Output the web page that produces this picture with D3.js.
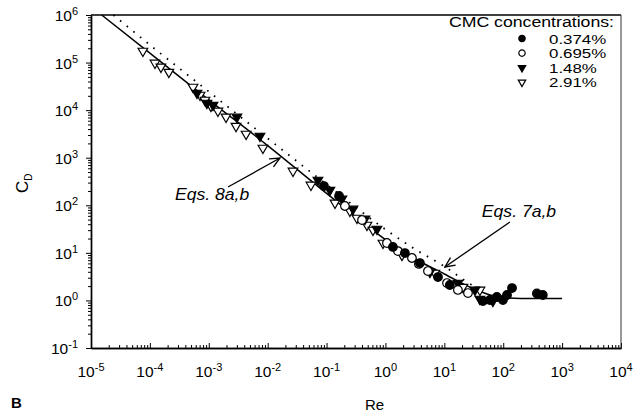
<!DOCTYPE html>
<html>
<head>
<meta charset="utf-8">
<script src="https://cdn.jsdelivr.net/npm/d3@7"></script>
<style>
  html, body { margin: 0; padding: 0; background: #fff; }
  svg text { font-family: "Liberation Sans", Arial, Helvetica, sans-serif; fill: #000; }
</style>
</head>
<body>
<svg id="chart" width="642" height="415"></svg>
<script>
// ---- data -------------------------------------------------------------
// Correlation curves (drag coefficient vs Reynolds number)
const eq8Re = [1.52e-5, 1e-4, 1e-3, 1e-2, 0.1, 1, 3, 10, 30, 60, 100, 200, 1000];
const eq8Cd = [1e6, 1.58e5, 1.65e4, 1.8e3, 178, 19, 7.8, 3.6, 1.8, 1.3, 1.15, 1.1, 1.1];
const eq7Re = [2.4e-5, 1e-4, 1e-3, 1e-2, 0.1, 1, 3, 10, 30, 50];
const eq7Cd = [1e6, 2.35e5, 2.45e4, 2.55e3, 275, 31, 12.5, 5.2, 2.1, 1.6];

// Measurements for each CMC concentration
const cmc0374Re = [0.0903, 0.163, 1.34, 2.14, 3.85, 7.8, 12.4, 45.2, 59.4, 78, 98.9, 116, 141, 373, 470];
const cmc0374Cd = [254, 157, 13.3, 9.9, 6.1, 3.1, 2.11, 0.97, 1.02, 1.18, 1.02, 1.30, 1.82, 1.40, 1.30];
const cmc0695Re = [0.205, 0.40, 1.06, 1.63, 2.82, 3.7, 5.27, 11.1, 17.0, 25.2];
const cmc0695Cd = [96.6, 49, 16.1, 10.9, 7.8, 5.84, 4.15, 2.32, 1.66, 1.43];
const cmc148Re = [6.3e-4, 9.3e-4, 1.18e-3, 3.0e-3, 7.4e-3, 0.0714, 0.114, 0.182, 0.281, 0.449, 0.718, 5.7, 17.0, 33.1, 40.2, 66.8];
const cmc148Cd = [2.29e4, 1.41e4, 1.28e4, 7.2e3, 2.86e3, 340, 209, 136, 83.6, 51.5, 31.7, 3.95, 2.32, 1.66, 1.07, 0.97];
const cmc291Re = [7.6e-5, 1.22e-4, 1.54e-4, 2.1e-4, 5.4e-4, 7.1e-4, 8.6e-4, 1.09e-3, 1.43e-3, 1.96e-3, 2.9e-3, 4.3e-3, 8.3e-3, 0.0269, 0.0543, 0.139, 0.249, 0.328, 0.485, 0.614, 0.908, 1.91, 6.9, 20.7, 40.2];
const cmc291Cd = [1.75e5, 9.8e4, 8.1e4, 6.3e4, 3.06e4, 2.08e4, 1.63e4, 1.22e4, 9.6e3, 7.2e3, 4.6e3, 3.15e3, 1.6e3, 526, 267, 112, 76, 54, 38.5, 30.2, 16.1, 9.0, 3.77, 1.91, 1.66];

const seriesLabels = ["0.374%", "0.695%", "1.48%", "2.91%"];
const legendTitle = "CMC concentrations:";
const reExponents = [-5, -4, -3, -2, -1, 0, 1, 2, 3, 4];
const cdExponents = [-1, 0, 1, 2, 3, 4, 5, 6];

// ---- layout -------------------------------------------------------------
const svg = d3.select("#chart");
const X0 = 91, X1 = 621, Y0 = 15, Y1 = 348;

const x = d3.scaleLog().domain([1e-5, 1e4]).range([X0, X1]);
const y = d3.scaleLog().domain([1e-1, 1e6]).range([Y1, Y0]);

const series = [
  { label: seriesLabels[0], re: cmc0374Re, cd: cmc0374Cd, shape: "circle", filled: true },
  { label: seriesLabels[1], re: cmc0695Re, cd: cmc0695Cd, shape: "circle", filled: false },
  { label: seriesLabels[2], re: cmc148Re, cd: cmc148Cd, shape: "triangle", filled: true },
  { label: seriesLabels[3], re: cmc291Re, cd: cmc291Cd, shape: "triangle", filled: false }
];

// minor / major tick values
const decadeTicks = (exps) => exps.map(e => Math.pow(10, e));
const minorTicks = (exps) => {
  const out = [];
  for (let i = 0; i < exps.length - 1; i++)
    for (let k = 2; k <= 9; k++) out.push(k * Math.pow(10, exps[i]));
  return out;
};

// ---- axes -------------------------------------------------------------
const gx = svg.append("g").attr("transform", `translate(0,${Y1})`);
gx.call(d3.axisBottom(x).tickValues(minorTicks(reExponents)).tickSizeInner(-3).tickSizeOuter(0).tickFormat(""));
gx.append("g").call(d3.axisBottom(x).tickValues(decadeTicks(reExponents)).tickSizeInner(-5).tickSizeOuter(0).tickFormat(""));
gx.selectAll("path.domain").attr("stroke", "#000").attr("stroke-width", 1.6);
gx.selectAll("line").attr("stroke", "#000").attr("stroke-width", 1);

const gy = svg.append("g").attr("transform", `translate(${X0},0)`);
gy.call(d3.axisLeft(y).tickValues(minorTicks(cdExponents)).tickSizeInner(3).tickSizeOuter(0).tickFormat(""));
gy.append("g").call(d3.axisLeft(y).tickValues(decadeTicks(cdExponents)).tickSizeInner(5).tickSizeOuter(0).tickFormat(""));
gy.selectAll("path.domain").attr("stroke", "#000").attr("stroke-width", 1.4);
gy.selectAll("line").attr("stroke", "#000").attr("stroke-width", 1);

// frame: top and right edges
svg.append("line").attr("x1", X0).attr("x2", X1).attr("y1", Y0).attr("y2", Y0)
  .attr("stroke", "#000").attr("stroke-width", 1.6);
svg.append("line").attr("x1", X1).attr("x2", X1).attr("y1", Y0).attr("y2", Y1)
  .attr("stroke", "#333").attr("stroke-width", 1);

// power-of-ten tick labels
function powerLabel(g, px, py, exp, anchor) {
  const t = g.append("text").attr("x", px).attr("y", py)
    .attr("text-anchor", anchor).attr("font-size", 15.5);
  t.append("tspan").text("10");
  t.append("tspan").attr("font-size", 11).attr("dy", -6).text(String(exp));
  return t;
}
reExponents.forEach(e => powerLabel(svg, x(Math.pow(10, e)), 377, e, "middle"));
cdExponents.forEach(e => powerLabel(svg, 78, y(Math.pow(10, e)) + 6, e, "end"));

// axis titles
svg.append("text").attr("x", 365).attr("y", 410).attr("font-size", 15).text("Re");
const cdTitle = svg.append("text")
  .attr("transform", "translate(28,193) rotate(-90)").attr("font-size", 17);
cdTitle.append("tspan").text("C");
cdTitle.append("tspan").attr("font-size", 10).attr("dy", 4).text("D");
svg.append("text").attr("x", 11).attr("y", 408).attr("font-size", 15)
  .attr("font-weight", "bold").text("B");

// ---- curves -------------------------------------------------------------
const lineGen = d3.line().x(d => x(d[0])).y(d => y(d[1])).curve(d3.curveMonotoneX);
svg.append("path").datum(d3.zip(eq7Re, eq7Cd)).attr("d", lineGen)
  .attr("fill", "none").attr("stroke", "#000").attr("stroke-width", 1.8)
  .attr("stroke-dasharray", "1.6 7");
svg.append("path").datum(d3.zip(eq8Re, eq8Cd)).attr("d", lineGen)
  .attr("fill", "none").attr("stroke", "#000").attr("stroke-width", 1.5);

// ---- markers -------------------------------------------------------------
function symbolPath(shape, size) {
  return shape === "circle"
    ? d3.symbol(d3.symbolCircle, size)()
    : d3.symbol(d3.symbolTriangle, size)();
}
function drawMarker(g, s, px, py, size) {
  g.append("path").attr("d", symbolPath(s.shape, size))
    .attr("transform", `translate(${px},${py})` + (s.shape === "triangle" ? " rotate(180)" : ""))
    .attr("fill", s.filled ? "#000" : "#fff")
    .attr("stroke", "#000").attr("stroke-width", 1.2);
}
const plot = svg.append("g");
series.slice().reverse().forEach(s => {
  d3.zip(s.re, s.cd).forEach(([re, cd]) => {
    drawMarker(plot, s, x(re), y(cd), s.shape === "circle" ? 58 : 40);
  });
});

// ---- legend -------------------------------------------------------------
const legend = svg.append("g");
legend.append("text").attr("transform", "translate(614,27) scale(1.18,1)")
  .attr("text-anchor", "end").attr("font-size", 15).text(legendTitle);
series.forEach((s, i) => {
  const cy = 38.5 + i * 14.6;
  drawMarker(legend, s, 522, cy, s.shape === "circle" ? 32 : 24);
  legend.append("text").attr("transform", `translate(549,${cy + 5}) scale(1.3,1)`)
    .attr("font-size", 13).text(s.label);
});

// ---- annotations -------------------------------------------------------------
svg.append("defs").append("marker").attr("id", "openArrow")
  .attr("viewBox", "-11 -6 12 12").attr("refX", 0).attr("refY", 0)
  .attr("markerWidth", 12).attr("markerHeight", 12).attr("markerUnits", "userSpaceOnUse")
  .attr("orient", "auto")
  .append("path").attr("d", "M-10,-4.5 L0,0 L-10,4.5")
  .attr("fill", "none").attr("stroke", "#000").attr("stroke-width", 1.3);

const notes = [
  { text: "Eqs. 8a,b", at: [2.67e-4, 129], from: [2.12e-3, 242], to: [0.0162, 986] },
  { text: "Eqs. 7a,b", at: [43.4, 56.7], from: [130, 44.6], to: [10.2, 5.04] }
];
notes.forEach(n => {
  svg.append("text").attr("transform", `translate(${x(n.at[0])},${y(n.at[1])}) scale(1.1,1)`)
    .attr("font-size", 16).attr("font-style", "italic").text(n.text);
  svg.append("line")
    .attr("x1", x(n.from[0])).attr("y1", y(n.from[1]))
    .attr("x2", x(n.to[0])).attr("y2", y(n.to[1]))
    .attr("stroke", "#000").attr("stroke-width", 1.3)
    .attr("marker-end", "url(#openArrow)");
});
</script>
</body>
</html>
